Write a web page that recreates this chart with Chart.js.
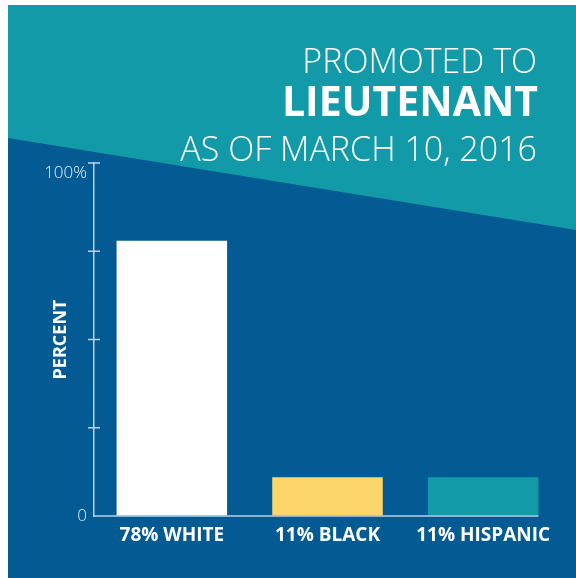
<!DOCTYPE html>
<html lang="en">
<head>
    <meta charset="UTF-8">
    <title>Promoted to Lieutenant</title>
    <script src="https://cdn.jsdelivr.net/npm/chart.js@4.4.0/dist/chart.umd.min.js"></script>
    <style>
        * { margin: 0; padding: 0; box-sizing: border-box; }
        body { width: 576px; height: 578px; background: #fff; overflow: hidden; }
        #wrap { width: 576px; height: 578px; }
    </style>
</head>
<body>
    <div id="wrap"><canvas id="chart" width="576" height="578"></canvas></div>
    <script>
        // data
        const categories = ['78% WHITE', '11% BLACK', '11% HISPANIC']
        const percents = [78, 11, 11]
        const barColors = ['#ffffff', '#fdd66b', '#129aa8']
        const tickValues = [0, 25, 50, 75, 100]
        const titleLines = ['PROMOTED TO', 'LIEUTENANT', 'AS OF MARCH 10, 2016']

        const TEAL = '#129aa8'
        const NAVY = '#045b94'
        const AXIS = '#b8d2e3'

        const backdrop = {
            id: 'backdrop',
            beforeDraw(chart) {
                const ctx = chart.ctx
                const w = chart.width, h = chart.height
                ctx.save()
                ctx.fillStyle = '#ffffff'
                ctx.fillRect(0, 0, w, h)
                ctx.fillStyle = TEAL
                ctx.fillRect(8, 5, w - 8, h - 5)
                ctx.fillStyle = NAVY
                ctx.beginPath()
                ctx.moveTo(8, 138)
                ctx.lineTo(w, 230)
                ctx.lineTo(w, h)
                ctx.lineTo(8, h)
                ctx.closePath()
                ctx.fill()

                // heading
                ctx.fillStyle = '#ffffff'
                ctx.textAlign = 'right'
                ctx.textBaseline = 'alphabetic'
                ctx.font = '300 34px "Open Sans"'
                ctx.fillText(titleLines[0], 537, 73)
                ctx.font = 'bold 41px "Open Sans"'
                ctx.fillText(titleLines[1], 538, 116)
                ctx.font = '300 34px "Open Sans"'
                ctx.fillText(titleLines[2], 537, 161)
                ctx.restore()
            }
        }

        // tick marks crossing the y axis, and the baseline
        const axisMarks = {
            id: 'axisMarks',
            afterDatasetsDraw(chart) {
                const ctx = chart.ctx
                const y = chart.scales.y
                const x0 = chart.chartArea.left
                ctx.save()
                ctx.strokeStyle = AXIS
                ctx.lineWidth = 1.5
                tickValues.forEach(v => {
                    if (v === 0) return
                    const py = y.getPixelForValue(v)
                    ctx.beginPath()
                    ctx.moveTo(x0 - 6, py)
                    ctx.lineTo(x0 + 6, py)
                    ctx.stroke()
                })
                const bars = chart.getDatasetMeta(0).data
                const last = bars[bars.length - 1]
                const py0 = y.getPixelForValue(0)
                ctx.beginPath()
                ctx.moveTo(x0, py0)
                ctx.lineTo(last.x + last.width / 2, py0)
                ctx.stroke()
                ctx.restore()
            }
        }

        const ctx = document.getElementById('chart').getContext('2d')
        new Chart(ctx, {
            type: 'bar',
            data: {
                labels: categories,
                datasets: [{
                    label: 'Percent',
                    data: percents,
                    backgroundColor: barColors,
                    borderWidth: 0,
                    barPercentage: 0.71,
                    categoryPercentage: 1
                }]
            },
            options: {
                responsive: false,
                animation: false,
                layout: { padding: { top: 163, right: 15, bottom: 0, left: 0 } },
                plugins: {
                    legend: { display: false },
                    tooltip: { enabled: false }
                },
                scales: {
                    x: {
                        grid: { display: false, drawTicks: false },
                        border: { display: false },
                        ticks: {
                            color: '#ffffff',
                            padding: 8,
                            font: { family: 'Open Sans', weight: 'bold', size: 19 }
                        },
                        afterFit(scale) { scale.height = 62 }
                    },
                    y: {
                        min: 0,
                        max: 100,
                        afterBuildTicks(scale) { scale.ticks = tickValues.map(v => ({ value: v })) },
                        grid: { color: 'transparent', drawTicks: false },
                        border: { display: true, color: AXIS, width: 1.5 },
                        ticks: {
                            color: '#e6f0f6',
                            padding: 7,
                            font: { family: 'Open Sans', weight: '300', size: 17 },
                            callback(v) {
                                if (v === 0) return '0'
                                if (v === 100) return ['', '100%']
                                return ''
                            }
                        },
                        title: {
                            display: true,
                            text: 'PERCENT',
                            color: '#ffffff',
                            padding: { top: 50, bottom: 0 },
                            font: { family: 'Open Sans', weight: 'bold', size: 18 }
                        },
                        afterFit(scale) { scale.width = 94 }
                    }
                }
            },
            plugins: [backdrop, axisMarks]
        })
    </script>
</body>
</html>
